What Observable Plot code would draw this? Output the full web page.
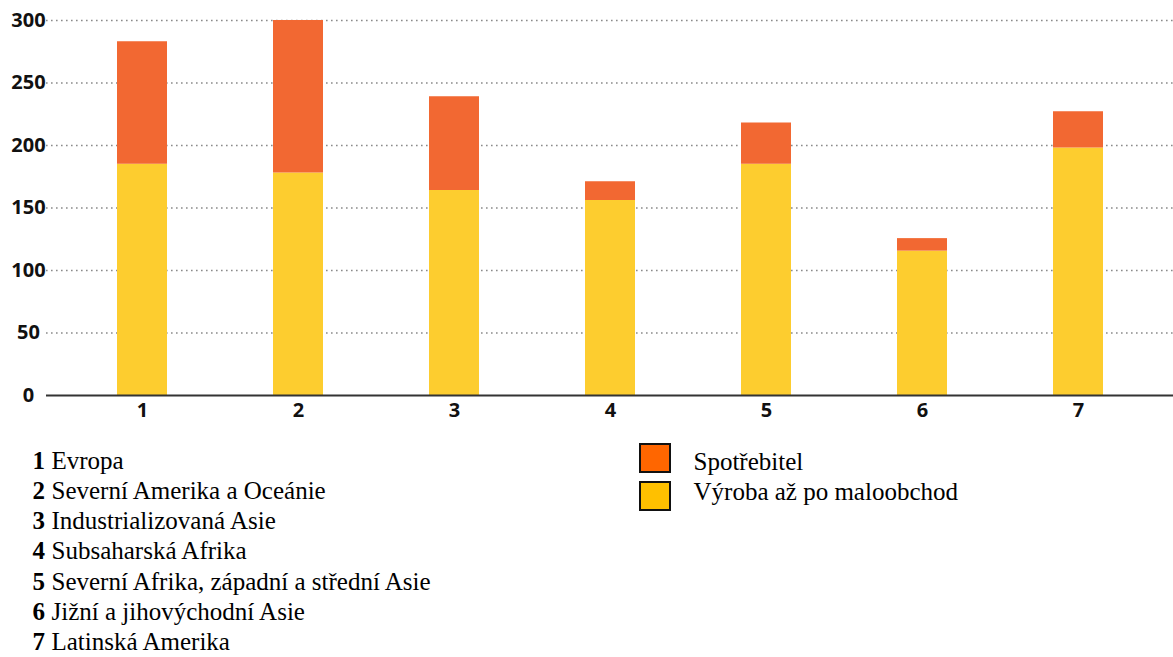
<!DOCTYPE html>
<html>
<head>
<meta charset="utf-8">
<script src="https://cdn.jsdelivr.net/npm/d3@7"></script>
<script src="https://cdn.jsdelivr.net/npm/@observablehq/plot@0.6"></script>
</head>
<body style="margin:0;font-size:24px">
<div id="c"></div>
<div id="legend"></div>
<script>
const categories = ["1", "2", "3", "4", "5", "6", "7"];
const regionNames = [
  "Evropa",
  "Severní Amerika a Oceánie",
  "Industrializovaná Asie",
  "Subsaharská Afrika",
  "Severní Afrika, západní a střední Asie",
  "Jižní a jihovýchodní Asie",
  "Latinská Amerika"
];
const productionToRetail = [185, 178, 164, 156, 185, 115.5, 198];
const consumer = [98, 122, 75, 15, 33, 10, 29];
const seriesNames = ["Výroba až po maloobchod", "Spotřebitel"];
const barColors = ["#FDCD2F", "#F26832"];
const legendColors = ["#FFC000", "#FF6600"];
const yTicks = [0, 50, 100, 150, 200, 250, 300];

const data = [];
categories.forEach((c, i) => {
  data.push({cat: c, series: seriesNames[0], value: productionToRetail[i]});
  data.push({cat: c, series: seriesNames[1], value: consumer[i]});
});

const serif = "Liberation Serif, serif";
const regionMarks = [];
categories.forEach((c, i) => {
  regionMarks.push(Plot.text([c], {frameAnchor: "bottom-left", textAnchor: "start", lineAnchor: "bottom", dx: -14, dy: 73 + i * 30.3, fontFamily: serif, fontSize: 25, fontWeight: "bold", fill: "#000"}));
  regionMarks.push(Plot.text([regionNames[i]], {frameAnchor: "bottom-left", textAnchor: "start", lineAnchor: "bottom", dx: 5, dy: 73 + i * 30.3, fontFamily: serif, fontSize: 25, fill: "#000"}));
});
const legendOrder = [1, 0];
legendOrder.forEach((si, k) => {
  regionMarks.push(Plot.text([seriesNames[si]], {frameAnchor: "bottom-left", textAnchor: "start", lineAnchor: "bottom", dx: 647, dy: 74 + k * 30, fontFamily: serif, fontSize: 25, fill: "#000"}));
});

const chart = Plot.plot({
  width: 1173,
  height: 657,
  marginLeft: 46,
  marginRight: 0,
  marginTop: 20,
  marginBottom: 262,
  style: {fontFamily: serif, fontSize: "20px"},
  x: {domain: categories, paddingInner: 0.68, paddingOuter: 0.445, label: null},
  y: {domain: [0, 300], label: null},
  color: {domain: seriesNames, range: barColors},
  marks: [
    Plot.gridY(yTicks.filter(d => d > 0), {stroke: "#8a8a8a", strokeOpacity: 1, strokeWidth: 1.6, strokeDasharray: "1.6,3.4"}),
    Plot.barY(data, {x: "cat", y: "value", fill: "series", order: seriesNames}),
    Plot.ruleY([0], {stroke: "#333", strokeWidth: 2}),
    Plot.axisY({ticks: yTicks, tickSize: 0, tickPadding: 18, textAnchor: "middle", fontFamily: "Open Sans", fontSize: 20, fontWeight: "bold", fill: "#111", tickFormat: d => String(d)}),
    Plot.axisX({tickSize: 0, tickPadding: 7, fontFamily: "Open Sans", fontSize: 20, fontWeight: "bold", fill: "#111"}),
    ...regionMarks
  ]
});
document.getElementById("c").appendChild(chart);

const lg = document.getElementById("legend");
legendOrder.forEach((si, k) => {
  const sw = document.createElement("div");
  Object.assign(sw.style, {
    position: "absolute", left: "639px", top: (443 + k * 38) + "px",
    width: "28px", height: "26px", border: "2px solid #111", background: legendColors[si]
  });
  lg.appendChild(sw);
});
</script>
</body>
</html>
